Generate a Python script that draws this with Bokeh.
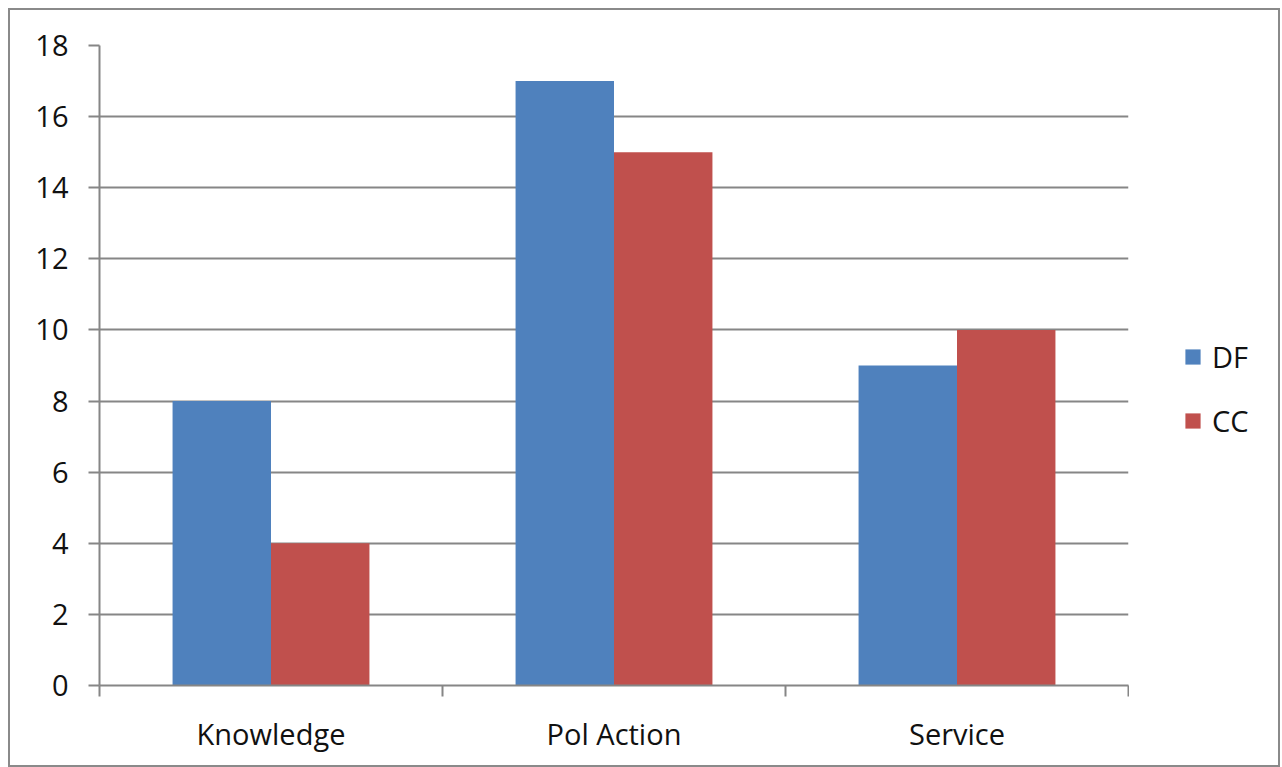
import numpy as np
from bokeh.plotting import figure
from bokeh.layouts import row
from bokeh.models import (ColumnDataSource, Range1d, FixedTicker, Legend, LegendItem)
from bokeh.transform import dodge
from bokeh.embed import file_html
from bokeh.resources import INLINE

categories = ["Knowledge", "Pol Action", "Service"]
df_values = [8, 17, 9]
cc_values = [4, 15, 10]
series_names = ["DF", "CC"]
y_ticks = [0, 2, 4, 6, 8, 10, 12, 14, 16, 18]

BLUE = "#4F81BD"
RED = "#C0504D"
GRID = "#868686"
FONT = "Open Sans"
FS = "29px"

xpos = np.arange(len(categories)) + 0.5
src = ColumnDataSource(dict(x=xpos, df=df_values, cc=cc_values))

p = figure(width=1119, height=755, output_backend="svg", toolbar_location=None,
           x_range=Range1d(0, len(categories)), y_range=Range1d(0, 18),
           min_border_left=89, min_border_top=35, min_border_bottom=80,
           min_border_right=1)
p.outline_line_color = None

bw = 0.287
r1 = p.vbar(x=dodge("x", -bw / 2), top="df", width=bw, source=src,
            fill_color=BLUE, line_color=None)
r2 = p.vbar(x=dodge("x", bw / 2), top="cc", width=bw, source=src,
            fill_color=RED, line_color=None)

# x axis
p.xaxis.ticker = FixedTicker(ticks=list(xpos), minor_ticks=list(range(len(categories) + 1)))
p.xaxis.major_label_overrides = {float(x): c for x, c in zip(xpos, categories)}
p.xaxis.major_tick_line_color = None
p.xaxis.minor_tick_line_color = GRID
p.xaxis.minor_tick_line_width = 2
p.xaxis.minor_tick_out = 11
p.xaxis.minor_tick_in = 0
p.xaxis.axis_line_color = GRID
p.xaxis.axis_line_width = 2
p.xaxis.major_label_standoff = 17
p.xaxis.major_label_text_font = FONT
p.xaxis.major_label_text_font_size = FS
p.xaxis.major_label_text_color = "#111111"

# y axis
p.yaxis.ticker = FixedTicker(ticks=y_ticks)
p.yaxis.axis_line_color = GRID
p.yaxis.axis_line_width = 2
p.yaxis.major_tick_line_color = GRID
p.yaxis.major_tick_line_width = 2
p.yaxis.major_tick_out = 11
p.yaxis.major_tick_in = 0
p.yaxis.minor_tick_line_color = None
p.yaxis.major_label_standoff = 20
p.yaxis.major_label_text_font = FONT
p.yaxis.major_label_text_font_size = FS
p.yaxis.major_label_text_color = "#111111"

p.xgrid.grid_line_color = None
p.ygrid.ticker = FixedTicker(ticks=y_ticks)
p.ygrid.grid_line_color = GRID
p.ygrid.grid_line_width = 2

# legend panel to the right of the plot area (proxy glyphs lie outside its range)
pl = figure(width=149, height=755, output_backend="svg", toolbar_location=None,
            x_range=Range1d(0, 1), y_range=Range1d(0, 1),
            min_border_left=0, min_border_right=0, min_border_top=0, min_border_bottom=0)
pl.axis.visible = False
pl.grid.visible = False
pl.outline_line_color = None
proxy = ColumnDataSource(dict(x=[-5.0], y=[-5.0]))
l1 = pl.rect(x="x", y="y", width=0.1, height=0.1, source=proxy, fill_color=BLUE, line_color=None)
l2 = pl.rect(x="x", y="y", width=0.1, height=0.1, source=proxy, fill_color=RED, line_color=None)

legend = Legend(items=[LegendItem(label=series_names[0], renderers=[l1]),
                       LegendItem(label=series_names[1], renderers=[l2])],
                location=(54, 245), padding=0, margin=0, spacing=25,
                glyph_width=19, glyph_height=19, label_standoff=10,
                label_text_font=FONT, label_text_font_size=FS,
                label_text_color="#111111",
                border_line_color=None, background_fill_alpha=0)
pl.add_layout(legend, "center")

layout = row(p, pl, spacing=0)
layout.styles = {"border": "2px solid #8a8a8a", "margin-left": "8px", "margin-top": "8px"}

open("out.html", "w").write(file_html(layout, INLINE))
